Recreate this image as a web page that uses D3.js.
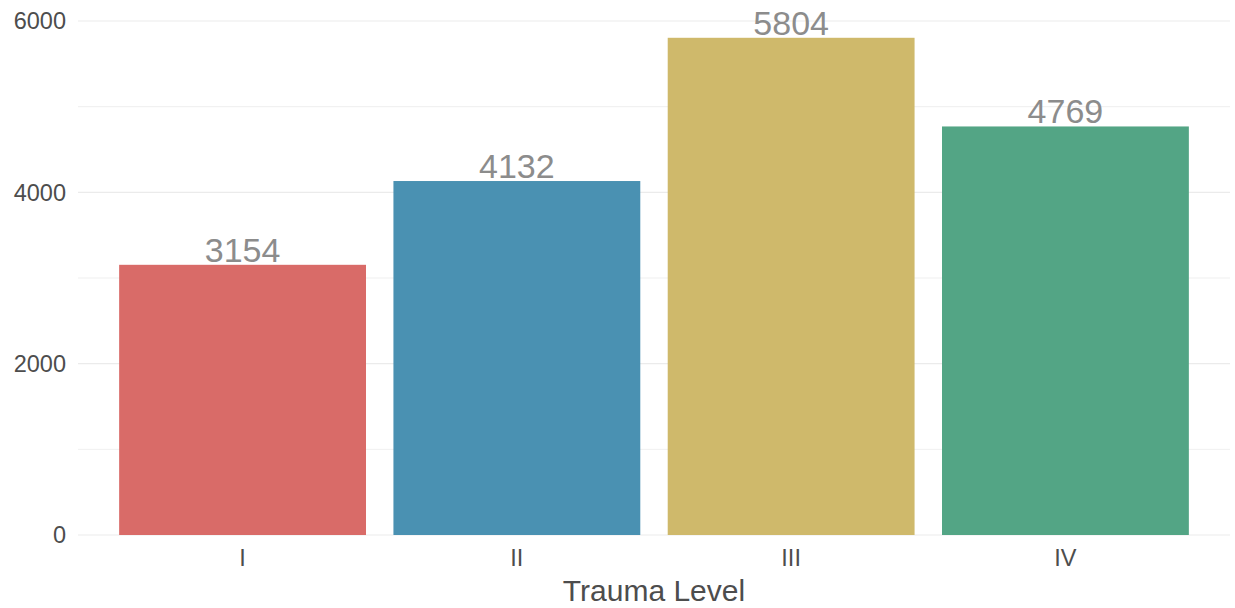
<!DOCTYPE html>
<html>
<head>
<meta charset="utf-8">
<script src="https://cdn.jsdelivr.net/npm/d3@7"></script>
<style>
  body { margin: 0; background: #fff; }
  text { font-family: "Liberation Sans", Arial, sans-serif; }
</style>
</head>
<body>
<script>
var levels = ["I", "II", "III", "IV"];
var counts = [3154, 4132, 5804, 4769];
var barColors = ["#d96b68", "#4a91b2", "#cfb96b", "#53a585"];
var yTicks = [0, 2000, 4000, 6000];
var yMinor = [1000, 3000, 5000];

var width = 1235, height = 608;
var svg = d3.select("body").append("svg")
    .attr("width", width)
    .attr("height", height);

var x = d3.scaleBand()
    .domain(levels)
    .range([78, 1230])
    .paddingInner(0.1)
    .paddingOuter(0.15);

var y = d3.scaleLinear()
    .domain([0, 6000])
    .range([535, 21]);

// grid lines
svg.append("g").selectAll("line")
    .data(yMinor.concat(yTicks))
    .enter().append("line")
    .attr("x1", 78).attr("x2", 1230)
    .attr("y1", d => y(d)).attr("y2", d => y(d))
    .attr("stroke", "#ebebeb")
    .attr("stroke-width", d => yTicks.indexOf(d) >= 0 ? 1.2 : 0.8);

// bars
svg.append("g").selectAll("rect")
    .data(levels)
    .enter().append("rect")
    .attr("x", d => x(d))
    .attr("width", x.bandwidth())
    .attr("y", (d, i) => y(counts[i]))
    .attr("height", (d, i) => y(0) - y(counts[i]))
    .attr("fill", (d, i) => barColors[i]);

// value labels
svg.append("g").selectAll("text")
    .data(levels)
    .enter().append("text")
    .attr("x", d => x(d) + x.bandwidth() / 2)
    .attr("y", (d, i) => y(counts[i]) - 3)
    .attr("text-anchor", "middle")
    .attr("font-size", 34)
    .attr("fill", "#8c8c8c")
    .text((d, i) => counts[i]);

// y axis labels
svg.append("g").selectAll("text")
    .data(yTicks)
    .enter().append("text")
    .attr("x", 66)
    .attr("y", d => y(d))
    .attr("dy", "0.36em")
    .attr("text-anchor", "end")
    .attr("font-size", 23.5)
    .attr("fill", "#4d4d4d")
    .text(d => d);

// x axis labels
svg.append("g").selectAll("text")
    .data(levels)
    .enter().append("text")
    .attr("x", d => x(d) + x.bandwidth() / 2)
    .attr("y", 566)
    .attr("text-anchor", "middle")
    .attr("font-size", 23.5)
    .attr("fill", "#4d4d4d")
    .text(d => d);

svg.append("text")
    .attr("x", (78 + 1230) / 2)
    .attr("y", 601)
    .attr("text-anchor", "middle")
    .attr("font-size", 30)
    .attr("fill", "#4d4d4d")
    .text("Trauma Level");
</script>
</body>
</html>
